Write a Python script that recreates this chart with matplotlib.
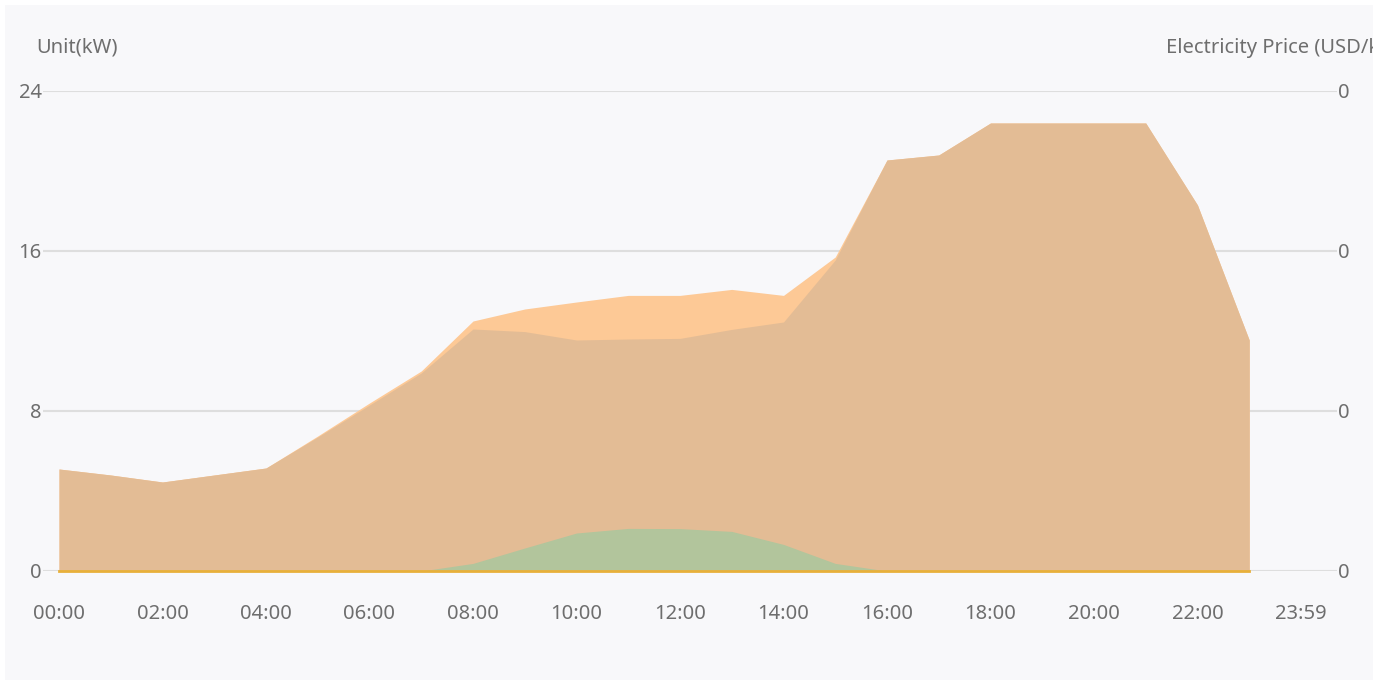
import matplotlib
matplotlib.use('Agg')
import matplotlib.pyplot as plt
from matplotlib.patches import Rectangle
import numpy as np

############################
hours = list(range(24))
load_kw = [5.1, 4.8, 4.45, 4.8, 5.15, 6.7, 8.3, 9.9, 12.1, 11.97, 11.55, 11.6,
           11.63, 12.08, 12.45, 15.55, 20.55, 20.8, 22.4, 22.4, 22.4, 22.4, 18.3, 11.55]
demand_kw = [5.1, 4.8, 4.45, 4.8, 5.15, 6.75, 8.4, 10.0, 12.5, 13.1, 13.45, 13.78,
             13.78, 14.08, 13.78, 15.7, 20.55, 20.8, 22.4, 22.4, 22.4, 22.4, 18.3, 11.55]
pv_kw = [0, 0, 0, 0, 0, 0, 0, 0, 0.38, 1.15, 1.9, 2.13,
         2.12, 1.98, 1.33, 0.38, 0, 0, 0, 0, 0, 0, 0, 0]
price = [0] * 24
tick_pos = list(range(0, 25, 2))
tick_labels = ['00:00', '02:00', '04:00', '06:00', '08:00', '10:00', '12:00',
               '14:00', '16:00', '18:00', '20:00', '22:00', '23:59']
y_ticks = [0, 8, 16, 24]
############################

plt.rcParams['font.family'] = ['Noto Sans', 'DejaVu Sans']
txt_color = '#6e6e6e'
fs = 14.5

fig = plt.figure(figsize=(13.89, 6.82), dpi=100)
fig.patch.set_facecolor('white')
panel = Rectangle((5 / 1389, 1 - 680 / 682), 1368 / 1389, 675 / 682,
                  transform=fig.transFigure, facecolor='#f8f8fa', edgecolor='none', zorder=-10)
fig.patches.append(panel)

ax = fig.add_axes([43 / 1389, 1 - 571 / 682, 1294 / 1389, 480 / 682])
ax.set_facecolor('none')
ax.set_xlim(-0.309, 24.696)
ax.set_ylim(0, 24)

for yv in y_ticks:
    ax.axhline(yv, color='#dedede', lw=1.5, zorder=0)

ax.fill_between(hours, 0, demand_kw, color='#fdc996', lw=0, zorder=1)
ax.fill_between(hours, 0, load_kw, color='#e3bc95', lw=0, zorder=2)
ax.fill_between(hours, 0, pv_kw, color='#b2c59c', lw=0, zorder=3)

ax2 = ax.twinx()
ax2.set_ylim(0, 24)
ax2.plot(hours, price, color='#e8b03a', lw=2, zorder=4, clip_on=False)

for a in (ax, ax2):
    for s in a.spines.values():
        s.set_visible(False)

ax.set_xticks(tick_pos)
ax.set_xticklabels(tick_labels)
ax.set_yticks(y_ticks)
ax.set_yticklabels([str(v) for v in y_ticks])
ax.tick_params(axis='x', length=0, pad=24, labelsize=fs, labelcolor=txt_color)
ax.tick_params(axis='y', length=0, pad=1, labelsize=fs, labelcolor=txt_color)
ax2.set_yticks(y_ticks)
ax2.set_yticklabels(['0'] * len(y_ticks))
ax2.tick_params(axis='y', length=0, pad=1, labelsize=fs, labelcolor=txt_color)

fig.text(36 / 1389, 1 - 48 / 682, 'Unit(kW)', fontsize=fs, color=txt_color, va='center', ha='left')
t = fig.text(1166 / 1389, 1 - 48 / 682, 'Electricity Price (USD/kWh)', fontsize=fs,
             color=txt_color, va='center', ha='left')
t.set_clip_path(panel)

fig.savefig('out.png', dpi=100)
